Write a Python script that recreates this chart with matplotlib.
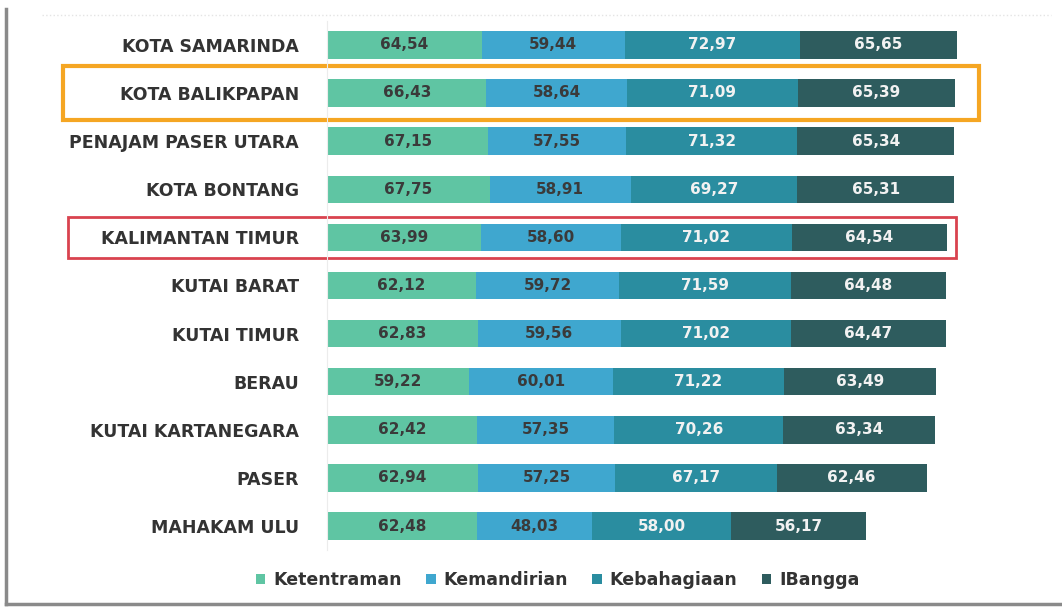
import numpy as np
import matplotlib.pyplot as plt
from matplotlib.patches import Rectangle
from matplotlib.lines import Line2D

plt.rcParams["font.family"] = ["DejaVu Sans"]

REGIONS = [
    "KOTA SAMARINDA", "KOTA BALIKPAPAN", "PENAJAM PASER UTARA", "KOTA BONTANG",
    "KALIMANTAN TIMUR", "KUTAI BARAT", "KUTAI TIMUR", "BERAU",
    "KUTAI KARTANEGARA", "PASER", "MAHAKAM ULU",
]
ketentraman = [64.54, 66.43, 67.15, 67.75, 63.99, 62.12, 62.83, 59.22, 62.42, 62.94, 62.48]
kemandirian = [59.44, 58.64, 57.55, 58.91, 58.60, 59.72, 59.56, 60.01, 57.35, 57.25, 48.03]
kebahagiaan = [72.97, 71.09, 71.32, 69.27, 71.02, 71.59, 71.02, 71.22, 70.26, 67.17, 58.00]
ibangga = [65.65, 65.39, 65.34, 65.31, 64.54, 64.48, 64.47, 63.49, 63.34, 62.46, 56.17]
SERIES = ["Ketentraman", "Kemandirian", "Kebahagiaan", "IBangga"]

COLORS = ["#5fc5a3", "#3fa7cf", "#2a8da0", "#2e5c5e"]
TEXT_COLORS = ["#3a3a3a", "#3a3a3a", "#f2f2f2", "#f2f2f2"]

fig = plt.figure(figsize=(10.62, 6.08), dpi=100)
ax = fig.add_axes([0.3079, 0.0872, 0.6328, 0.8865])

y = np.arange(len(REGIONS))
left = np.zeros(len(REGIONS))
for name, vals, col, tcol in zip(SERIES, [ketentraman, kemandirian, kebahagiaan, ibangga],
                                 COLORS, TEXT_COLORS):
    vals = np.array(vals)
    bars = ax.barh(y, vals, left=left, height=0.57, color=col, label=name)
    for b, v in zip(bars, vals):
        ax.text(b.get_x() + b.get_width() / 2, b.get_y() + b.get_height() / 2,
                f"{v:.2f}".replace(".", ","), ha="center", va="center",
                fontsize=11, fontweight="bold", color=tcol)
    left += vals

ax.set_xlim(0, 280)
ax.set_ylim(len(REGIONS) - 0.4, -0.6)
ax.set_yticks(y)
ax.set_yticklabels(REGIONS, fontsize=12.5, fontweight="bold", color="#333333")
ax.tick_params(axis="y", length=0, pad=20)
ax.set_xticks([])
for s in ["top", "right", "bottom"]:
    ax.spines[s].set_visible(False)
ax.spines["left"].set_color("#ececec")
ax.spines["left"].set_bounds(-0.5, len(REGIONS) - 0.5)

# highlight boxes
totals = left
i = REGIONS.index("KOTA BALIKPAPAN")
ax.add_patch(Rectangle((-110, i - 0.56), totals[i] + 120, 1.12, fill=False,
                       edgecolor="#f5a623", lw=3, clip_on=False))
i = REGIONS.index("KALIMANTAN TIMUR")
ax.add_patch(Rectangle((-108, i - 0.43), totals[i] + 112, 0.86, fill=False,
                       edgecolor="#d9434f", lw=2, clip_on=False))

leg = fig.legend(loc="center", bbox_to_anchor=(0.525, 0.046), ncol=4, frameon=False,
                 handlelength=0.55, handleheight=0.55, columnspacing=1.4, handletextpad=0.45,
                 prop={"size": 12.5, "weight": "bold"})
for t in leg.get_texts():
    t.set_color("#333333")

# scanned frame
fig.add_artist(Line2D([0.006, 0.006], [0.007, 0.985], color="#8a8a8a", lw=2.5))
fig.add_artist(Line2D([0.006, 1.0], [0.007, 0.007], color="#8a8a8a", lw=2.5))
fig.add_artist(Line2D([0.04, 0.99], [0.975, 0.975], color="#e4e4e4", lw=1, ls=":"))

fig.savefig("out.png", dpi=100)
